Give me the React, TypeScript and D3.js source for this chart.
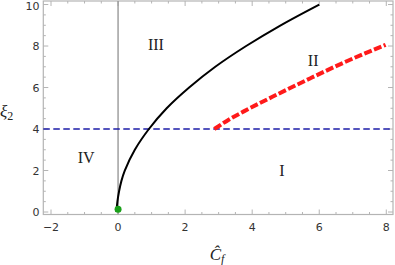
import { useEffect, useRef } from 'react';
import * as d3 from 'd3';

const W = 395;
const H = 265;

// black boundary curve (Cf, xi)
const blackCf = [-0.05, -0.02, 0.03, 0.1, 0.2, 0.5, 0.92, 1.45, 2.12, 2.9, 3.82, 4.85, 6.0];
const blackXi = [0, 0.5, 1, 1.5, 2, 3, 4, 5, 6, 7, 8, 9, 10];

// red dashed curve
const redCf = [2.87, 3.3, 3.75, 4.75, 5.74, 6.73, 7.98];
const redXi = [4.0, 4.45, 4.85, 5.67, 6.45, 7.2, 8.06];

// horizontal threshold
const thresholdXi = 4;

// green point
const pointCf = 0;
const pointXi = 0.13;

// region labels
const regionNames = ['I', 'II', 'III', 'IV'];
const regionCf = [4.89, 5.82, 1.13, -0.95];
const regionXi = [1.98, 7.29, 8.09, 2.64];

const xTicks = [-2, 0, 2, 4, 6, 8];
const yTicks = [0, 2, 4, 6, 8, 10];

export default function App() {
  const ref = useRef<SVGSVGElement>(null);

  useEffect(() => {
    if (!ref.current) return;
    const svg = d3.select(ref.current);
    svg.selectAll('*').remove();

    const M = { left: 43.3, right: 393, top: 1, bottom: 214.5 };
    const x = d3.scaleLinear().domain([-2.23, 8.2]).range([M.left, M.right]);
    const y = d3.scaleLinear().domain([-0.12, 10.17]).range([M.bottom, M.top]);

    const frameCol = '#b4b4b4';
    const textCol = '#333';

    // ── Frame ───────────────────────────────────────────────
    svg.append('rect')
      .attr('x', M.left).attr('y', M.top)
      .attr('width', M.right - M.left).attr('height', M.bottom - M.top)
      .attr('fill', 'none').attr('stroke', frameCol).attr('stroke-width', 1.2);

    // ── Ticks (inward, mirrored) ────────────────────────────
    const minorX = d3.range(-2, 8.01, 0.5).filter(v => !xTicks.includes(v));
    const minorY = d3.range(0, 10.01, 0.5).filter(v => !yTicks.includes(v));
    const tk = svg.append('g').attr('stroke', frameCol).attr('stroke-width', 1);
    const vTick = (v: number, len: number) => {
      tk.append('line').attr('x1', x(v)).attr('x2', x(v)).attr('y1', M.bottom).attr('y2', M.bottom - len);
      tk.append('line').attr('x1', x(v)).attr('x2', x(v)).attr('y1', M.top).attr('y2', M.top + len);
    };
    const hTick = (v: number, len: number) => {
      tk.append('line').attr('y1', y(v)).attr('y2', y(v)).attr('x1', M.left).attr('x2', M.left + len);
      tk.append('line').attr('y1', y(v)).attr('y2', y(v)).attr('x1', M.right).attr('x2', M.right - len);
    };
    xTicks.forEach(v => vTick(v, 5));
    minorX.forEach(v => vTick(v, 2.5));
    yTicks.forEach(v => hTick(v, 5));
    minorY.forEach(v => hTick(v, 2.5));

    // tick labels
    const fmt = (v: number) => (v < 0 ? `\u2212${Math.abs(v)}` : `${v}`);
    svg.append('g').selectAll('text').data(xTicks).join('text')
      .attr('x', d => x(d)).attr('y', 231)
      .attr('text-anchor', 'middle')
      .attr('font-family', 'DejaVu Sans').attr('font-size', 11).attr('fill', textCol)
      .text(fmt);
    svg.append('g').selectAll('text').data(yTicks).join('text')
      .attr('x', 39.5).attr('y', d => Math.max(y(d) + 4, 9.5))
      .attr('text-anchor', 'end')
      .attr('font-family', 'DejaVu Sans').attr('font-size', 11).attr('fill', textCol)
      .text(d => `${d}`);

    // ── Vertical axis at Cf = 0 ─────────────────────────────
    svg.append('line')
      .attr('x1', x(0)).attr('x2', x(0)).attr('y1', M.top).attr('y2', M.bottom)
      .attr('stroke', '#999').attr('stroke-width', 1.4);

    // ── Blue dashed threshold ───────────────────────────────
    svg.append('line')
      .attr('x1', M.left).attr('x2', M.right)
      .attr('y1', y(thresholdXi)).attr('y2', y(thresholdXi))
      .attr('stroke', '#1c1ca8').attr('stroke-width', 1.3)
      .attr('stroke-dasharray', '6.5 3.5');

    // ── Curves ──────────────────────────────────────────────
    const blackPts = blackCf.map((c, i) => [x(c), y(blackXi[i])] as [number, number]);
    svg.append('path')
      .attr('d', d3.line().curve(d3.curveCatmullRom)(blackPts))
      .attr('fill', 'none').attr('stroke', '#000').attr('stroke-width', 2);

    const redPts = redCf.map((c, i) => [x(c), y(redXi[i])] as [number, number]);
    svg.append('path')
      .attr('d', d3.line().curve(d3.curveMonotoneX)(redPts))
      .attr('fill', 'none').attr('stroke', '#ff1a1a').attr('stroke-width', 4)
      .attr('stroke-dasharray', '8 2.5');

    // ── Green point ─────────────────────────────────────────
    svg.append('circle')
      .attr('cx', x(pointCf)).attr('cy', y(pointXi)).attr('r', 3.5)
      .attr('fill', '#19a019');

    // ── Region labels ───────────────────────────────────────
    svg.append('g').selectAll('text').data(regionNames).join('text')
      .attr('x', (_, i) => x(regionCf[i])).attr('y', (_, i) => y(regionXi[i]) + 5.5)
      .attr('text-anchor', 'middle')
      .attr('font-family', 'Liberation Serif').attr('font-size', 16).attr('fill', '#222')
      .text(d => d);

    // ── Axis titles ─────────────────────────────────────────
    const yl = svg.append('text')
      .attr('x', 0).attr('y', 117)
      .attr('font-family', 'Liberation Serif').attr('font-size', 17).attr('fill', '#222');
    yl.append('tspan').attr('font-style', 'italic').text('ξ');
    yl.append('tspan').attr('font-size', 12).attr('dy', 3).text('2');

    const xl = svg.append('text')
      .attr('x', 217).attr('y', 260)
      .attr('text-anchor', 'middle')
      .attr('font-family', 'Liberation Serif').attr('font-size', 17).attr('fill', '#222');
    xl.append('tspan').attr('font-style', 'italic').text('Ĉ');
    xl.append('tspan').attr('font-style', 'italic').attr('font-size', 12).attr('dy', 3).text('f');
  }, []);

  return (
    <svg ref={ref} width={W} height={H}
      style={{ position: 'absolute', left: 0, top: 0, background: '#fff' }} />
  );
}
